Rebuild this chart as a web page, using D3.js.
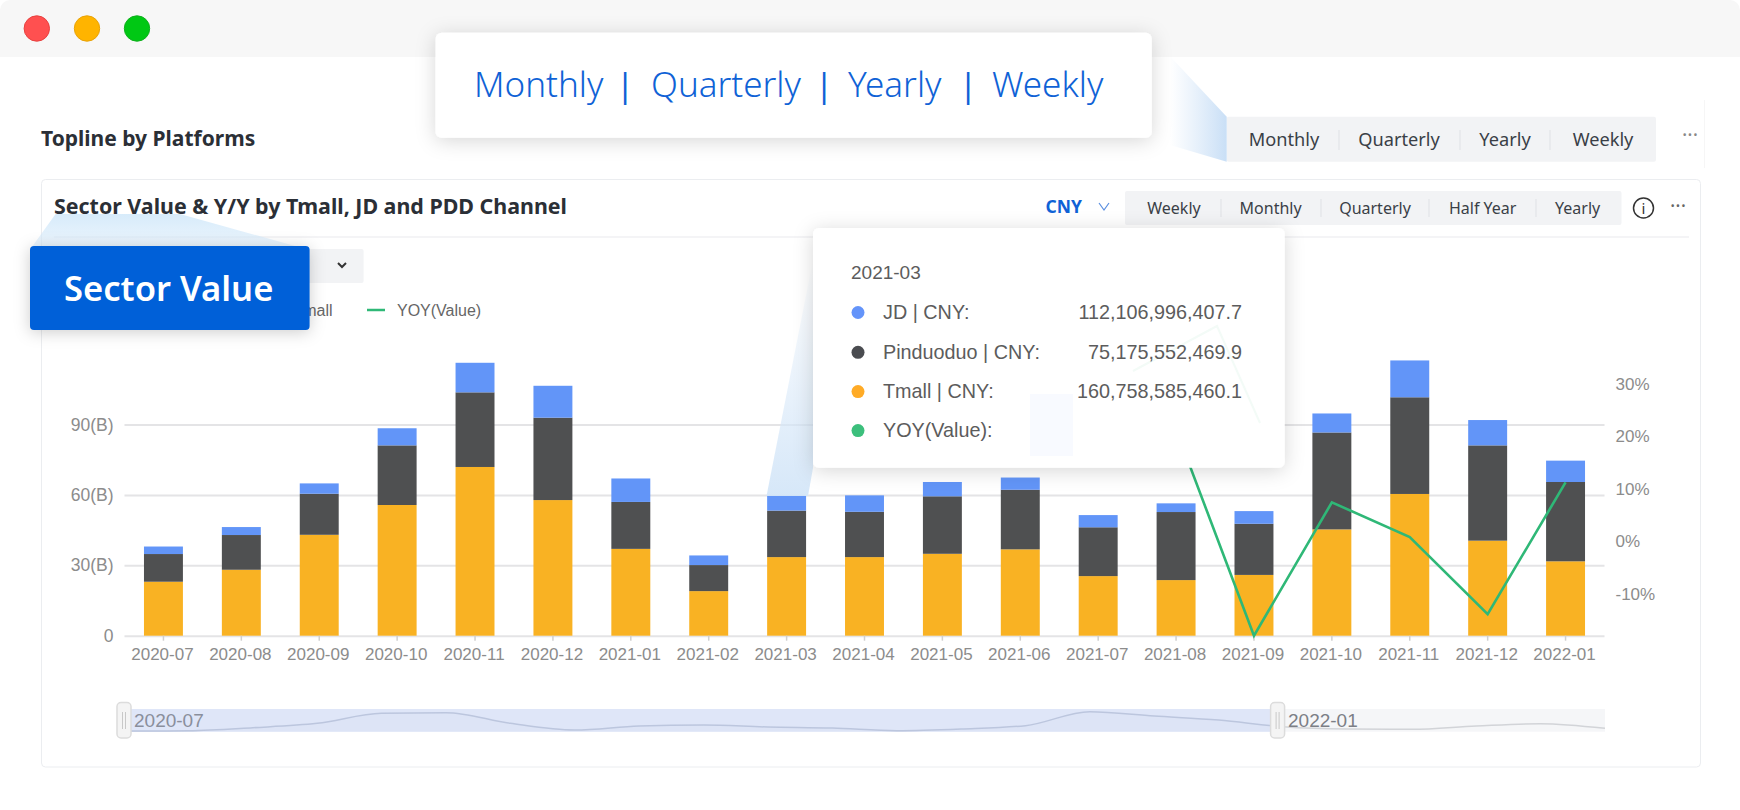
<!DOCTYPE html>
<html><head><meta charset="utf-8">
<script src="https://cdn.jsdelivr.net/npm/d3@7"></script>
<style>html,body{margin:0;padding:0;background:#fff;overflow:hidden}svg{display:block}
.ui{font-family:"Noto Sans","Open Sans",sans-serif}.ch{font-family:"Liberation Sans",Arial,sans-serif}</style>
</head><body><div id="c"></div>
<script>
// ---- data ----
const months = ["2020-07","2020-08","2020-09","2020-10","2020-11","2020-12","2021-01","2021-02","2021-03","2021-04","2021-05","2021-06","2021-07","2021-08","2021-09","2021-10","2021-11","2021-12","2022-01"];
const tmall = [23,28.1,43,55.7,71.9,57.8,37,19,33.5,33.5,34.9,36.8,25.4,23.7,25.9,45.3,60.4,40.5,31.7];
const pinduoduo = [11.8,14.8,17.5,25.4,31.8,35.1,20,11.1,19.8,19.3,24.5,25.4,20.8,29,21.8,41.3,41.2,40.6,33.8];
const jd = [3.2,3.4,4.4,7.3,12.6,13.6,10,4.1,6.5,7,6.1,5.2,5.2,3.7,5.4,8.1,15.7,10.8,9.1];
const yoy = [null,null,null,null,null,null,null,null,null,null,null,null,24,21.3,-18,7.4,0.8,-13.9,11.2];
const leftTicks = [0,30,60,90];
const rightTicks = [-10,0,10,20,30];
const seriesColors = ["#5f93f8","#4b4c4e","#f9b01f"];
const tooltipDate = "2021-03";
const tooltipLabels = ["JD | CNY:","Pinduoduo | CNY:","Tmall | CNY:","YOY(Value):"];
const tooltipValues = ["112,106,996,407.7","75,175,552,469.9","160,758,585,460.1",""];
const tooltipDots = ["#6494fa","#4a4c50","#ffab26","#3cbf7c"];
const calloutWords = ["Monthly","Quarterly","Yearly","Weekly"];
const pageTabs = ["Monthly","Quarterly","Yearly","Weekly"];
const cardTabs = ["Weekly","Monthly","Quarterly","Half Year","Yearly"];
const sliderTrend = [2,3,12,25,55,57,25,5,17,20,14,11,3,8,18,60,47,35,15,8,7,17,24,10];

// ---- layout ----
const W=1740,H=810;
const calloutX=[474,651,848,992], calloutSep=[625,824,968];
const pageTabX=[1284,1399,1505,1603], pageSep=[1339,1460,1550];
const cardTabX=[1174,1270.6,1375,1482.7,1577.6], cardSep=[1221,1321,1429,1536];
const tipRowY=[312.5,352.3,391.6,430.6];

const svg=d3.select("#c").append("svg").attr("width",W).attr("height",H);
const defs=svg.append("defs");
function shadow(id,dy,blur,op){const f=defs.append("filter").attr("id",id).attr("x","-20%").attr("y","-30%").attr("width","140%").attr("height","170%");
 f.append("feDropShadow").attr("dx",0).attr("dy",dy).attr("stdDeviation",blur).attr("flood-color","#000").attr("flood-opacity",op);}
shadow("sh",3,10,.16);shadow("sh2",2,8,.2);
function grad(id,x2,y2,a,aop,b,bop){const g=defs.append("linearGradient").attr("id",id).attr("x1",0).attr("y1",0).attr("x2",x2).attr("y2",y2);
 g.append("stop").attr("offset",0).attr("stop-color",a).attr("stop-opacity",aop);g.append("stop").attr("offset",1).attr("stop-color",b).attr("stop-opacity",bop);}
grad("gr",1,0,"#cfe2f7",0,"#c9dff6",1);
grad("gs",0,1,"#cde6f9",.8,"#d9ecfb",.55);
grad("gt",0,1,"#d4e6f8",0,"#d4e6f8",.95);

const poly=(pts,fill)=>svg.append("polygon").attr("points",pts.map(p=>p.join(",")).join(" ")).attr("fill",fill);

// window chrome
svg.append("path").attr("d","M0,57V10a10,10 0 0 1 10,-10H1730a10,10 0 0 1 10,10V57Z").attr("fill","#f7f7f7");
[[36.8,"#ff5050","#e8413f"],[87,"#ffb400","#e9a308"],[137,"#00c814","#0fb01e"]].forEach(d=>{
 svg.append("circle").attr("cx",d[0]).attr("cy",28.5).attr("r",12.7).attr("fill",d[1]).attr("stroke",d[2]);});

// page heading
svg.append("text").attr("class","ui").attr("x",41).attr("y",146).attr("font-size",21).attr("font-weight",700).attr("fill","#2b2f36").text("Topline by Platforms");
// page tabs
svg.append("rect").attr("x",1226.7).attr("y",116.7).attr("width",429.3).attr("height",45).attr("rx",2).attr("fill","#f2f3f5");
pageTabs.forEach((t,i)=>svg.append("text").attr("class","ui").attr("x",pageTabX[i]).attr("y",145.5).attr("text-anchor","middle").attr("font-size",18.2).attr("fill","#3a3f47").text(t));
pageSep.forEach(x=>svg.append("line").attr("x1",x).attr("x2",x).attr("y1",130).attr("y2",150).attr("stroke","#dfe1e5"));
svg.append("text").attr("class","ui").attr("x",1690).attr("y",142).attr("text-anchor","middle").attr("font-size",20).attr("fill","#888").text("···");
svg.append("line").attr("x1",1704.5).attr("x2",1704.5).attr("y1",100).attr("y2",168).attr("stroke","#f6f6f6");

// card
svg.append("rect").attr("x",41.5).attr("y",179.5).attr("width",1659).attr("height",587.5).attr("rx",4).attr("fill","#fff").attr("stroke","#ebedf0");
svg.append("text").attr("class","ui").attr("x",54).attr("y",214).attr("font-size",21.4).attr("font-weight",700).attr("fill","#2b2f36").text("Sector Value & Y/Y by Tmall, JD and PDD Channel");
svg.append("line").attr("x1",54).attr("x2",1689).attr("y1",237).attr("y2",237).attr("stroke","#f0f1f3").attr("stroke-width",1.5);
svg.append("text").attr("class","ui").attr("x",1045.5).attr("y",213).attr("font-size",17.5).attr("font-weight",700).attr("fill","#0f62d6").text("CNY");
svg.append("path").attr("d","M1099,203l5,7l5,-7").attr("fill","none").attr("stroke","#5b8fe0").attr("stroke-width",1.2);
svg.append("rect").attr("x",1125).attr("y",191).attr("width",496.5).attr("height",34).attr("rx",2).attr("fill","#f2f3f5");
cardTabs.forEach((t,i)=>svg.append("text").attr("class","ui").attr("x",cardTabX[i]).attr("y",213.5).attr("text-anchor","middle").attr("font-size",16).attr("fill","#3a3f47").text(t));
cardSep.forEach(x=>svg.append("line").attr("x1",x).attr("x2",x).attr("y1",199).attr("y2",217).attr("stroke","#dfe1e5"));
svg.append("circle").attr("cx",1643.5).attr("cy",208).attr("r",10).attr("fill","none").attr("stroke","#333").attr("stroke-width",1.5);
svg.append("text").attr("class","ui").attr("x",1643.5).attr("y",214).attr("text-anchor","middle").attr("font-size",15).attr("fill","#333").text("i");
svg.append("text").attr("class","ui").attr("x",1678).attr("y",213).attr("text-anchor","middle").attr("font-size",20).attr("fill","#666").text("···");

// dropdown + chevron
svg.append("rect").attr("x",54).attr("y",249).attr("width",309.6).attr("height",34).attr("rx",2).attr("fill","#f2f3f5");
svg.append("path").attr("d","M338,263l4,4l4,-4").attr("fill","none").attr("stroke","#333").attr("stroke-width",2);

// legend (the part not covered by the badge)
const legG=svg.append("g").attr("class","ch").attr("font-size",16).attr("fill","#666");
legG.append("text").attr("x",293.5).attr("y",316).text("Tmall");
legG.append("line").attr("x1",367).attr("x2",385).attr("y1",310).attr("y2",310).attr("stroke","#2fb877").attr("stroke-width",2.5);
legG.append("text").attr("x",397).attr("y",315.5).text("YOY(Value)");

// ---- chart ----
const x=d3.scaleBand().domain(months).range([124.5,1604.5]).paddingInner(.5).paddingOuter(.25);
const y=d3.scaleLinear().domain([0,120]).range([635.7,354.1]);
const yR=d3.scaleLinear().domain([-18,30]).range([635.7,383.7]);

const gy=svg.append("g").attr("class","ch").attr("transform","translate(124.5,0)")
 .call(d3.axisLeft(y).tickValues(leftTicks).tickSize(-1480).tickPadding(11).tickFormat(d=>d===0?"0":d+"(B)"));
gy.select(".domain").remove();
gy.selectAll("line").attr("stroke","#e4e4e6").attr("stroke-width",2);
gy.selectAll("text").attr("font-size",17.5).attr("fill","#8c8c8c");

const stack=d3.stack().keys([0,1,2]).value((d,k)=>d[k])(months.map((m,i)=>[tmall[i],pinduoduo[i],jd[i]]));
const stackColors=[seriesColors[2],seriesColors[1],seriesColors[0]];
stack.forEach((s,k)=>{
 svg.append("g").selectAll("rect").data(s).join("rect")
  .attr("x",(d,i)=>x(months[i])).attr("width",x.bandwidth())
  .attr("y",d=>y(d[1])).attr("height",d=>y(d[0])-y(d[1]))
  .attr("fill",stackColors[k]).attr("fill-opacity",.98);
});

const gx=svg.append("g").attr("class","ch").attr("transform","translate(-1,635.7)")
 .call(d3.axisBottom(x).tickSize(5).tickPadding(7));
gx.select(".domain").remove();
gx.selectAll("line").attr("stroke","#d0d0d0").attr("stroke-width",1.5).attr("transform","translate(1,0)");
gx.selectAll("text").attr("font-size",17).attr("fill","#8c8c8c");

const gr=svg.append("g").attr("class","ch").attr("transform","translate(1604.5,0)")
 .call(d3.axisRight(yR).tickValues(rightTicks).tickSize(0).tickPadding(11).tickFormat(d=>d+"%"));
gr.select(".domain").remove();
gr.selectAll("text").attr("font-size",17).attr("fill","#8c8c8c");

const line=d3.line().defined(d=>d!==null).x((d,i)=>x(months[i])+x.bandwidth()/2).y(d=>yR(d));
svg.append("path").attr("d",line(yoy)).attr("fill","none").attr("stroke","#2fb877").attr("stroke-width",2.6);

// slider
const sx=d3.scaleLinear().domain([0,sliderTrend.length-1]).range([124,1605]);
const sy=d3.scaleLinear().domain([0,68]).range([731.7,709]);
svg.append("rect").attr("x",124).attr("y",709).attr("width",1481).attr("height",22.7).attr("fill","#f5f6f8");
defs.append("clipPath").attr("id","sel").append("rect").attr("x",124).attr("y",700).attr("width",1153.6).attr("height",40);
const area=d3.area().x((d,i)=>sx(i)).y0(731.7).y1(d=>sy(d)).curve(d3.curveMonotoneX);
const tl=d3.line().x((d,i)=>sx(i)).y(d=>sy(d)).curve(d3.curveMonotoneX);
svg.append("path").attr("d",tl(sliderTrend)).attr("fill","none").attr("stroke","#d2d4d8").attr("stroke-width",1.5);
const sg=svg.append("g").attr("clip-path","url(#sel)");
sg.append("rect").attr("x",124).attr("y",709).attr("width",1153.6).attr("height",22.7).attr("fill","#dfe6f8");
sg.append("path").attr("d",area(sliderTrend)).attr("fill","#cdd6ec").attr("fill-opacity",.1);
sg.append("path").attr("d",tl(sliderTrend)).attr("fill","none").attr("stroke","#bcc6de").attr("stroke-width",1.5);
svg.append("text").attr("class","ch").attr("x",134).attr("y",727).attr("font-size",19).attr("fill","#8a8f9c").text(months[0]);
svg.append("text").attr("class","ch").attr("x",1288).attr("y",727).attr("font-size",19).attr("fill","#7c7f86").text(months[months.length-1]);
[124,1277.6].forEach(cx=>{
 svg.append("rect").attr("x",cx-7).attr("y",702.5).attr("width",14).attr("height",35.5).attr("rx",4).attr("fill","#f4f4f4").attr("stroke","#dcdcdc").attr("stroke-width",1.5);
 [-2,1].forEach(o=>svg.append("line").attr("x1",cx+o+.5).attr("x2",cx+o+.5).attr("y1",712).attr("y2",729).attr("stroke","#c8c8c8"));
});

// wedges
poly([[813,260],[813,468],[808,496],[766.5,496]],"url(#gt)");
poly([[1170.5,56.7],[1226.7,116.7],[1226.7,161.7],[1170,145]],"url(#gr)");
poly([[55.6,214],[180,214],[295,246],[32.6,246]],"url(#gs)");

// tooltip
svg.append("rect").attr("x",813).attr("y",228).attr("width",471.7).attr("height",239.7).attr("rx",6).attr("fill","#fff").attr("filter","url(#sh)");
svg.append("rect").attr("x",1030).attr("y",394).attr("width",43).attr("height",62).attr("fill","#f8faff");
svg.append("path").attr("d","M1133,371L1217,326L1260,423").attr("fill","none").attr("stroke","#f3fbf7").attr("stroke-width",2);
const tg=svg.append("g").attr("class","ch").attr("font-size",19.8).attr("fill","#5c5c5c");
tg.append("text").attr("x",851).attr("y",279).attr("font-size",19).text(tooltipDate);
tooltipLabels.forEach((t,i)=>{
 tg.append("circle").attr("cx",858).attr("cy",tipRowY[i]).attr("r",6.5).attr("fill",tooltipDots[i]);
 tg.append("text").attr("x",883).attr("y",tipRowY[i]+6.5).text(t);
 tg.append("text").attr("x",1242).attr("y",tipRowY[i]+6.5).attr("text-anchor","end").text(tooltipValues[i]);
});

// top callout
svg.append("rect").attr("x",435.6).attr("y",32.7).attr("width",716.2).attr("height",105).attr("rx",6).attr("fill","#fff").attr("filter","url(#sh)");
calloutWords.forEach((t,i)=>svg.append("text").attr("class","ui").attr("x",calloutX[i]).attr("y",97).attr("font-size",35).attr("font-weight",300).attr("fill","#0f62d6").text(t));
calloutSep.forEach(cx=>svg.append("text").attr("class","ui").attr("x",cx).attr("y",97).attr("text-anchor","middle").attr("font-size",33).attr("fill","#0f62d6").text("|"));

// sector value badge
svg.append("rect").attr("x",30).attr("y",246).attr("width",279.6).attr("height",84).attr("rx",4).attr("fill","#0060d8").attr("filter","url(#sh2)");
svg.append("text").attr("class","ui").attr("x",64).attr("y",301).attr("font-size",34.6).attr("font-weight",600).attr("fill","#fff").text("Sector Value");
</script></body></html>
